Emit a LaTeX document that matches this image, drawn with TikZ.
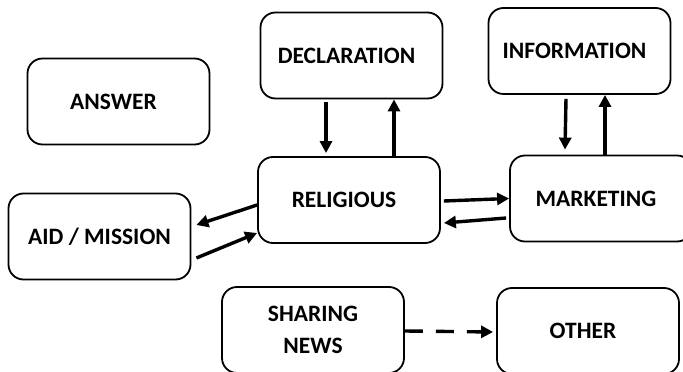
\documentclass[tikz,border=0pt]{standalone}
\usepackage{fontspec}
\setmainfont{Carlito}
\usetikzlibrary{arrows.meta}
\begin{document}
\begin{tikzpicture}[x=1pt,y=1pt,
  box/.style={draw=black, line width=1.8pt, rounded corners=15pt,
    minimum width=182pt, minimum height=86pt, inner sep=0pt,
    align=center, font=\fontsize{23.5}{32}\selectfont\bfseries},
  leftish/.style={execute at end node={\kern10pt}},
  arr/.style={line width=3.4pt, -{Triangle[length=12pt,width=12pt]}},
  dasharr/.style={arr, dash pattern=on 18pt off 13pt}]
  \useasboundingbox (0,0) rectangle (683,372);
  \clip (0,0) rectangle (683,372);

  % boxes
  \node[box,leftish] (decl)   at (351.5,316.5) {DECLARATION};
  \node[box,leftish] (info)   at (579.5,321)   {INFORMATION};
  \node[box,leftish] (answer) at (118.5,270.5) {ANSWER};
  \node[box,leftish] (relig)  at (349,172)     {RELIGIOUS};
  \node[box,leftish] (market) at (601,173.5)   {MARKETING};
  \node[box]         (aid)    at (99.5,135.5)  {AID / MISSION};
  \node[box]         (share)  at (313,42)      {SHARING\\NEWS};
  \node[box,leftish] (other)  at (588,41)      {OTHER};

  % religious <-> aid / mission
  \draw[arr] ([yshift=-5pt]relig.west) -- ([xshift=5pt,yshift=11.5pt]aid.east);
  \draw[arr] ([xshift=5pt,yshift=-21.5pt]aid.east) -- ([yshift=-33pt]relig.west);

  % religious <-> marketing
  \draw[arr] ([xshift=3pt,yshift=-1pt]relig.east) -- (market.west);
  \draw[arr] ([xshift=-3pt,yshift=-19.5pt]market.west) -- ([xshift=3pt,yshift=-23pt]relig.east);

  % declaration <-> religious
  \draw[arr] ([xshift=-25.5pt,yshift=-3pt]decl.south) -- ([xshift=-23pt,yshift=3pt]relig.north);
  \draw[arr] ([xshift=45pt]relig.north) -- ([xshift=42.5pt]decl.south);

  % information <-> marketing
  \draw[arr] ([xshift=-13.5pt,yshift=-4pt]info.south) -- ([xshift=-36pt,yshift=5pt]market.north);
  \draw[arr] ([xshift=4pt]market.north) -- ([xshift=25.5pt]info.south);

  % sharing news to other
  \draw[dasharr] ([yshift=-1pt]share.east) -- ([xshift=-3pt,yshift=-1pt]other.west);
\end{tikzpicture}
\end{document}
